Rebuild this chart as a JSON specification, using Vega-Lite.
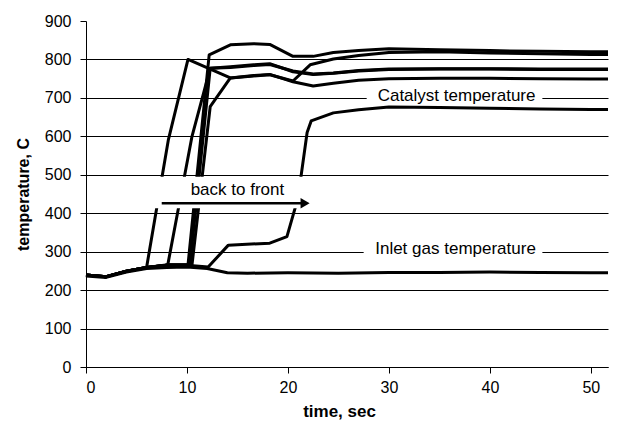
{
  "$schema": "https://vega.github.io/schema/vega-lite/v6.json",
  "width": 522,
  "height": 346,
  "autosize": {"type": "none"},
  "padding": {"left": 86, "top": 21, "right": 11, "bottom": 62},
  "background": "white",
  "config": {
    "view": {"stroke": null},
    "font": "Liberation Sans",
    "axis": {
      "domainColor": "black", "tickColor": "black", "labelColor": "black", "titleColor": "black",
      "domainWidth": 1, "tickWidth": 1, "tickSize": 6,
      "labelFontSize": 16, "titleFontSize": 16, "titleFontWeight": "bold",
      "labelFont": "Liberation Sans", "titleFont": "Liberation Sans", "labelOverlap": false
    }
  },
  "datasets": {
    "curves": [
      {"s": "inlet", "t": 0, "v": 237}, {"s": "inlet", "t": 2, "v": 233}, {"s": "inlet", "t": 4, "v": 247}, {"s": "inlet", "t": 6, "v": 256}, {"s": "inlet", "t": 8, "v": 259}, {"s": "inlet", "t": 10, "v": 260}, {"s": "inlet", "t": 12, "v": 256}, {"s": "inlet", "t": 14, "v": 245}, {"s": "inlet", "t": 16, "v": 244}, {"s": "inlet", "t": 20, "v": 245}, {"s": "inlet", "t": 25, "v": 244}, {"s": "inlet", "t": 30, "v": 246}, {"s": "inlet", "t": 35, "v": 246}, {"s": "inlet", "t": 40, "v": 247}, {"s": "inlet", "t": 45, "v": 246}, {"s": "inlet", "t": 50, "v": 245}, {"s": "inlet", "t": 51.7, "v": 245},

      {"s": "c1", "t": 0, "v": 239}, {"s": "c1", "t": 2, "v": 235}, {"s": "c1", "t": 4, "v": 249}, {"s": "c1", "t": 6, "v": 259}, {"s": "c1", "t": 8.15, "v": 590}, {"s": "c1", "t": 10.1, "v": 800}, {"s": "c1", "t": 14.3, "v": 752}, {"s": "c1", "t": 16.6, "v": 758}, {"s": "c1", "t": 18.2, "v": 761}, {"s": "c1", "t": 20.5, "v": 742}, {"s": "c1", "t": 22.5, "v": 731}, {"s": "c1", "t": 24.5, "v": 738}, {"s": "c1", "t": 27, "v": 746}, {"s": "c1", "t": 30, "v": 750}, {"s": "c1", "t": 35, "v": 751}, {"s": "c1", "t": 40, "v": 751}, {"s": "c1", "t": 45, "v": 750}, {"s": "c1", "t": 50, "v": 749}, {"s": "c1", "t": 51.7, "v": 749},

      {"s": "c2", "t": 0, "v": 239}, {"s": "c2", "t": 2, "v": 235}, {"s": "c2", "t": 4, "v": 249}, {"s": "c2", "t": 6, "v": 259}, {"s": "c2", "t": 8.1, "v": 266}, {"s": "c2", "t": 10.5, "v": 600}, {"s": "c2", "t": 12.3, "v": 777}, {"s": "c2", "t": 14.3, "v": 781}, {"s": "c2", "t": 16.6, "v": 786}, {"s": "c2", "t": 18.2, "v": 789}, {"s": "c2", "t": 20.5, "v": 768}, {"s": "c2", "t": 22.5, "v": 761}, {"s": "c2", "t": 24.5, "v": 764}, {"s": "c2", "t": 27, "v": 770}, {"s": "c2", "t": 30, "v": 774}, {"s": "c2", "t": 35, "v": 775}, {"s": "c2", "t": 40, "v": 775}, {"s": "c2", "t": 45, "v": 774}, {"s": "c2", "t": 50, "v": 774}, {"s": "c2", "t": 51.7, "v": 774},

      {"s": "c3", "t": 0, "v": 239}, {"s": "c3", "t": 2, "v": 235}, {"s": "c3", "t": 4, "v": 249}, {"s": "c3", "t": 6, "v": 259}, {"s": "c3", "t": 8, "v": 265}, {"s": "c3", "t": 10.1, "v": 265}, {"s": "c3", "t": 12.2, "v": 812}, {"s": "c3", "t": 14.3, "v": 838}, {"s": "c3", "t": 16.6, "v": 841}, {"s": "c3", "t": 18.2, "v": 839}, {"s": "c3", "t": 20.5, "v": 808}, {"s": "c3", "t": 22.5, "v": 808}, {"s": "c3", "t": 24.5, "v": 818}, {"s": "c3", "t": 27, "v": 823}, {"s": "c3", "t": 30, "v": 828}, {"s": "c3", "t": 35, "v": 825}, {"s": "c3", "t": 40, "v": 823}, {"s": "c3", "t": 45, "v": 821}, {"s": "c3", "t": 50, "v": 820}, {"s": "c3", "t": 51.7, "v": 820},

      {"s": "c4", "t": 0, "v": 239}, {"s": "c4", "t": 2, "v": 235}, {"s": "c4", "t": 4, "v": 249}, {"s": "c4", "t": 6, "v": 259}, {"s": "c4", "t": 8, "v": 265}, {"s": "c4", "t": 10.3, "v": 266}, {"s": "c4", "t": 12.3, "v": 777}, {"s": "c4", "t": 14.3, "v": 779}, {"s": "c4", "t": 16.6, "v": 784}, {"s": "c4", "t": 18.2, "v": 787}, {"s": "c4", "t": 20.5, "v": 770}, {"s": "c4", "t": 22.5, "v": 762}, {"s": "c4", "t": 24.5, "v": 765}, {"s": "c4", "t": 27, "v": 771}, {"s": "c4", "t": 30, "v": 775}, {"s": "c4", "t": 35, "v": 776}, {"s": "c4", "t": 40, "v": 776}, {"s": "c4", "t": 45, "v": 775}, {"s": "c4", "t": 50, "v": 775}, {"s": "c4", "t": 51.7, "v": 775},

      {"s": "c5", "t": 0, "v": 239}, {"s": "c5", "t": 2, "v": 235}, {"s": "c5", "t": 4, "v": 249}, {"s": "c5", "t": 6, "v": 259}, {"s": "c5", "t": 8, "v": 265}, {"s": "c5", "t": 10.5, "v": 266}, {"s": "c5", "t": 12.3, "v": 677}, {"s": "c5", "t": 14.3, "v": 752}, {"s": "c5", "t": 16.6, "v": 757}, {"s": "c5", "t": 18.2, "v": 760}, {"s": "c5", "t": 20.5, "v": 744}, {"s": "c5", "t": 22.2, "v": 786}, {"s": "c5", "t": 24.5, "v": 801}, {"s": "c5", "t": 27, "v": 810}, {"s": "c5", "t": 30, "v": 818}, {"s": "c5", "t": 35, "v": 820}, {"s": "c5", "t": 40, "v": 817}, {"s": "c5", "t": 45, "v": 815}, {"s": "c5", "t": 50, "v": 813}, {"s": "c5", "t": 51.7, "v": 813},

      {"s": "c6", "t": 0, "v": 239}, {"s": "c6", "t": 2, "v": 235}, {"s": "c6", "t": 4, "v": 249}, {"s": "c6", "t": 6, "v": 259}, {"s": "c6", "t": 8, "v": 265}, {"s": "c6", "t": 10, "v": 265}, {"s": "c6", "t": 12.1, "v": 260}, {"s": "c6", "t": 14.1, "v": 317}, {"s": "c6", "t": 18.2, "v": 322}, {"s": "c6", "t": 19.9, "v": 339}, {"s": "c6", "t": 21.0, "v": 440}, {"s": "c6", "t": 21.9, "v": 610}, {"s": "c6", "t": 22.3, "v": 640}, {"s": "c6", "t": 24.5, "v": 661}, {"s": "c6", "t": 27, "v": 669}, {"s": "c6", "t": 30, "v": 676}, {"s": "c6", "t": 35, "v": 675}, {"s": "c6", "t": 40, "v": 673}, {"s": "c6", "t": 45, "v": 671}, {"s": "c6", "t": 50, "v": 670}, {"s": "c6", "t": 51.7, "v": 670}
    ],
    "masks": [
      {"t": 6.6, "t2": 22.6, "v": 413, "v2": 495},
      {"t": 27.8, "t2": 45.2, "v": 690, "v2": 718},
      {"t": 27.5, "t2": 45.2, "v": 290, "v2": 320}
    ],
    "labels": [
      {"label": "back to front", "t": 15.0, "v": 460},
      {"label": "Catalyst temperature", "t": 36.7, "v": 705},
      {"label": "Inlet gas temperature", "t": 36.6, "v": 306}
    ],
    "arrow": [{"t": 7.5, "t2": 21.3, "v": 426}],
    "arrowhead": [{"t": 21.7, "v": 426}]
  },
  "encoding": {
    "x": {
      "field": "t", "type": "quantitative",
      "scale": {"domain": [0, 51.7], "nice": false},
      "axis": {
        "values": [0, 10, 20, 30, 40, 50], "grid": false, "title": "time, sec",
        "labelPadding": 6, "titleX": 253, "titleY": 44, "titleAlign": "center", "titleBaseline": "middle", "titleFontSize": 17
      }
    },
    "y": {
      "field": "v", "type": "quantitative",
      "scale": {"domain": [0, 900], "nice": false},
      "axis": {
        "values": [0, 100, 200, 300, 400, 500, 600, 700, 800, 900],
        "grid": true, "gridColor": "black", "gridWidth": 1,
        "gridOpacity": {"condition": {"test": "datum.value >= 900", "value": 0}, "value": 1},
        "title": "temperature, C", "labelPadding": 9,
        "titleX": -63, "titleY": 173, "titleAngle": -90, "titleAlign": "center", "titleBaseline": "middle"
      }
    }
  },
  "layer": [
    {
      "data": {"name": "curves"},
      "mark": {"type": "line", "color": "black", "strokeWidth": 3, "strokeJoin": "round"},
      "encoding": {"detail": {"field": "s"}}
    },
    {
      "data": {"name": "masks"},
      "mark": {"type": "rect", "color": "white", "opacity": 1},
      "encoding": {"x2": {"field": "t2"}, "y2": {"field": "v2"}}
    },
    {
      "data": {"name": "labels"},
      "mark": {"type": "text", "fontSize": 17, "color": "black", "baseline": "middle", "align": "center", "font": "Liberation Sans"},
      "encoding": {"text": {"field": "label"}}
    },
    {
      "data": {"name": "arrow"},
      "mark": {"type": "rule", "color": "black", "strokeWidth": 2.5},
      "encoding": {"x2": {"field": "t2"}}
    },
    {
      "data": {"name": "arrowhead"},
      "mark": {"type": "point", "shape": "triangle-right", "filled": true, "color": "black", "opacity": 1, "size": 110},
      "encoding": {}
    }
  ]
}
